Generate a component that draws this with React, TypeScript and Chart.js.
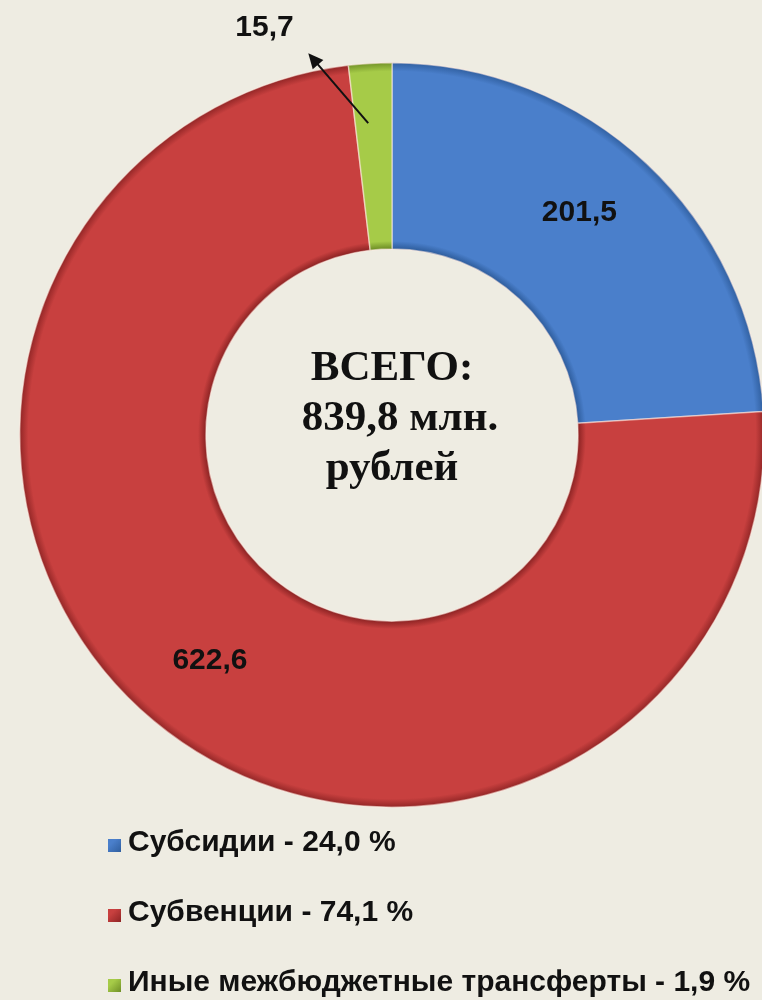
import React, { useEffect, useRef } from "react";
import { Chart, registerables } from "chart.js";

Chart.register(...registerables);

const categories = ["Субсидии", "Субвенции", "Иные межбюджетные трансферты"];
const values = [201.5, 622.6, 15.7];
const valueLabels = ["201,5", "622,6", "15,7"];
const percentLabels = ["24,0 %", "74,1 %", "1,9 %"];
const colors = ["#4A7FCB", "#C8403F", "#A6CB48"];
const darkColors = ["#2F5E9E", "#8E2424", "#6F8F26"];
const centerLines = ["ВСЕГО:", "839,8 млн.", "рублей"];

const BG = "#EEECE2";

const labelPlugin = {
  id: "sliceLabels",
  afterDatasetsDraw(chart: any) {
    const ctx = chart.ctx;
    const meta = chart.getDatasetMeta(0);
    ctx.save();
    ctx.font = "bold 30px 'Liberation Sans', Arial, sans-serif";
    ctx.fillStyle = "#111111";
    ctx.textAlign = "center";
    ctx.textBaseline = "middle";
    meta.data.forEach((arc: any, i: number) => {
      const p = arc.getProps(["x", "y", "startAngle", "endAngle", "outerRadius", "innerRadius"], true);
      const mid = (p.startAngle + p.endAngle) / 2;
      if (i < 2) {
        const r = p.outerRadius * 0.78;
        const a = mid - (i === 0 ? 3 : 1) * Math.PI / 180;
        ctx.fillText(valueLabels[i], p.x + Math.cos(a) * r, p.y + Math.sin(a) * r);
      } else {
        const ta = mid - 1 * Math.PI / 180;
        const tr = p.outerRadius * 0.84;
        const ha = mid - 9 * Math.PI / 180;
        const hr = p.outerRadius * 1.05;
        const tx = p.x + Math.cos(ta) * tr, ty = p.y + Math.sin(ta) * tr;
        const hx = p.x + Math.cos(ha) * hr, hy = p.y + Math.sin(ha) * hr;
        const ang = Math.atan2(hy - ty, hx - tx);
        const L = 15, W = 7;
        ctx.strokeStyle = "#111111";
        ctx.lineWidth = 2;
        ctx.beginPath();
        ctx.moveTo(tx, ty);
        ctx.lineTo(hx - (L - 2) * Math.cos(ang), hy - (L - 2) * Math.sin(ang));
        ctx.stroke();
        ctx.beginPath();
        ctx.moveTo(hx, hy);
        ctx.lineTo(hx - L * Math.cos(ang) + W * Math.sin(ang), hy - L * Math.sin(ang) - W * Math.cos(ang));
        ctx.lineTo(hx - L * Math.cos(ang) - W * Math.sin(ang), hy - L * Math.sin(ang) + W * Math.cos(ang));
        ctx.closePath();
        ctx.fill();
        const la = mid - 14 * Math.PI / 180;
        const lr = p.outerRadius * 1.147;
        ctx.fillText(valueLabels[i], p.x + Math.cos(la) * lr, p.y + Math.sin(la) * lr);
      }
    });
    ctx.restore();
  },
};

export default function App() {
  const ref = useRef<HTMLCanvasElement | null>(null);
  useEffect(() => {
    if (!ref.current) return;
    const chart = new Chart(ref.current, {
      type: "doughnut",
      data: {
        labels: categories,
        datasets: [
          {
            data: values,
            backgroundColor: (c: any) => {
              const i = c.dataIndex;
              const ch = c.chart;
              const ca = ch.chartArea;
              if (!ca) return colors[i];
              const cx = (ca.left + ca.right) / 2;
              const cy = (ca.top + ca.bottom) / 2;
              const r = Math.min(ca.right - ca.left, ca.bottom - ca.top) / 2;
              const g = ch.ctx.createRadialGradient(cx, cy, r * 0.5, cx, cy, r);
              g.addColorStop(0, darkColors[i]);
              g.addColorStop(0.04, colors[i]);
              g.addColorStop(0.95, colors[i]);
              g.addColorStop(1, darkColors[i]);
              return g;
            },
            borderColor: "rgba(255,235,225,0.55)",
            borderWidth: 1.5,
          },
        ],
      },
      options: {
        responsive: false,
        animation: false,
        cutout: "50%",
        layout: { padding: { left: 19, top: 62, right: 35, bottom: 192 } },
        plugins: { legend: { display: false }, tooltip: { enabled: false } },
      },
      plugins: [labelPlugin],
    });
    return () => chart.destroy();
  }, []);

  const legendTops = [826, 896, 966];
  return (
    <div style={{ position: "absolute", left: 0, top: 0, width: 762, height: 1000, overflow: "hidden", background: BG }}>
      <canvas ref={ref} width={800} height={1000} style={{ position: "absolute", left: 0, top: 0, width: 800, height: 1000 }} />
      <div
        style={{
          position: "absolute",
          left: 192,
          top: 341,
          width: 400,
          textAlign: "center",
          fontFamily: "'Liberation Serif', 'Times New Roman', serif",
          fontWeight: "bold",
          fontSize: 43,
          lineHeight: "50px",
          color: "#111111",
        }}
      >
        {centerLines.map((t, i) => (
          <div key={i} style={{ paddingLeft: i === 1 ? 16 : 0 }}>{t}</div>
        ))}
      </div>
      {categories.map((c, i) => (
        <div key={c} style={{ position: "absolute", left: 108, top: legendTops[i], height: 30, whiteSpace: "nowrap" }}>
          <div
            style={{
              position: "absolute",
              left: 0,
              top: 13,
              width: 13,
              height: 13,
              background: `linear-gradient(135deg, ${colors[i]} 30%, ${darkColors[i]})`,
            }}
          />
          <div
            style={{
              position: "absolute",
              left: 20,
              top: 0,
              fontFamily: "'Liberation Sans', Arial, sans-serif",
              fontWeight: "bold",
              fontSize: 30,
              lineHeight: "30px",
              color: "#111111",
            }}
          >
            {`${c} - ${percentLabels[i]}`}
          </div>
        </div>
      ))}
    </div>
  );
}
